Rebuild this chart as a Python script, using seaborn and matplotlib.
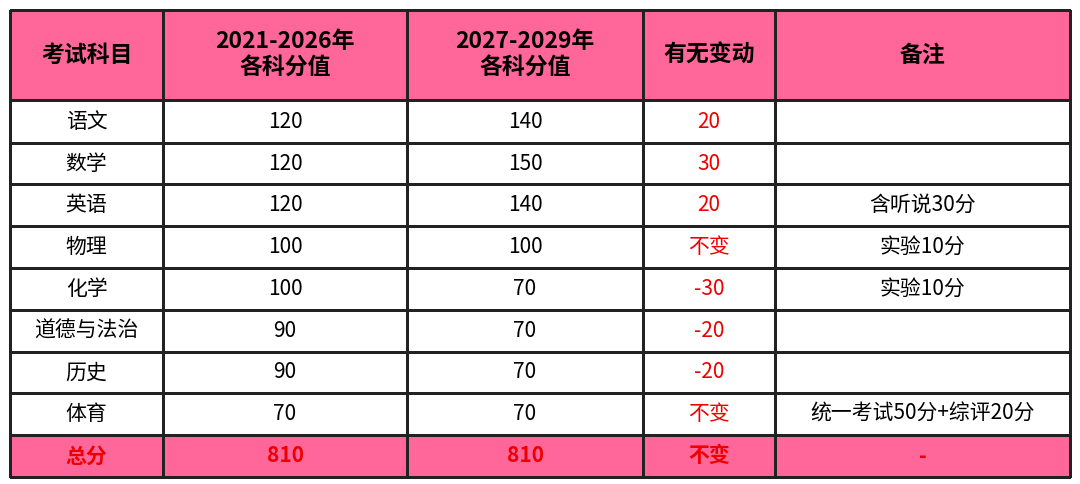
import numpy as np
import matplotlib
matplotlib.use("Agg")
import matplotlib.pyplot as plt
import seaborn as sns
from matplotlib.colors import ListedColormap

sns.set_theme(style="white")
plt.rcParams['font.family'] = ['Noto Sans CJK SC', 'DejaVu Sans']

headers = ["考试科目", "2021-2026年\n各科分值", "2027-2029年\n各科分值", "有无变动", "备注"]
subjects = ["语文", "数学", "英语", "物理", "化学", "道德与法治", "历史", "体育"]
old_scores = ["120", "120", "120", "100", "100", "90", "90", "70"]
new_scores = ["140", "150", "140", "100", "70", "70", "70", "70"]
changes = ["20", "30", "20", "不变", "-30", "-20", "-20", "不变"]
notes = ["", "", "含听说30分", "实验10分", "实验10分", "", "", "统一考试50分+综评20分"]
total_row = ["总分", "810", "810", "不变", "-"]

x_edges = [10, 163, 407, 643, 775, 1070]
y_edges = [10, 100, 143, 184, 226, 268, 310, 352, 393, 435, 477]
pink = "#FF6699"

fig = plt.figure(figsize=(10.8, 4.84), dpi=100)
ax = fig.add_axes([0, 0, 1, 1])
fig.patch.set_facecolor("white")

nrows = len(y_edges) - 1
ncols = len(x_edges) - 1
z = np.zeros((nrows, ncols))
z[0, :] = 1
z[-1, :] = 1
ax.pcolormesh(x_edges, y_edges, z, cmap=ListedColormap(["white", pink]),
              edgecolors="#222222", linewidth=1.0, vmin=0, vmax=1)
ax.set_xlim(0, 1080)
ax.set_ylim(484, 0)
ax.axis("off")

cx = [(x_edges[i] + x_edges[i + 1]) / 2 for i in range(ncols)]
cy = [(y_edges[i] + y_edges[i + 1]) / 2 for i in range(nrows)]

for j, h in enumerate(headers):
    ax.text(cx[j], cy[0], h, ha="center", va="center", fontsize=16.5,
            fontweight="bold", color="black", linespacing=1.2)

for i in range(len(subjects)):
    row = [subjects[i], old_scores[i], new_scores[i], changes[i], notes[i]]
    for j, v in enumerate(row):
        col = "#EE0000" if j == 3 else "black"
        ax.text(cx[j], cy[i + 1], v, ha="center", va="center", fontsize=15, color=col)

for j, v in enumerate(total_row):
    ax.text(cx[j], cy[-1], v, ha="center", va="center", fontsize=15,
            fontweight="bold", color="#EE0000")

fig.savefig("out.png", dpi=100)
